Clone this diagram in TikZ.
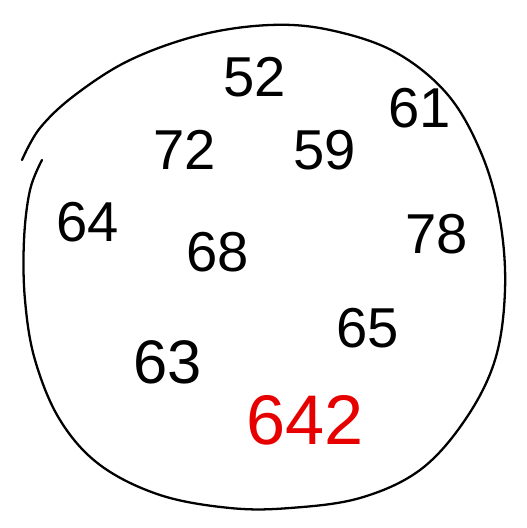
\documentclass[tikz,border=0pt]{standalone}
\usepackage{fontspec}
\setmainfont{Liberation Sans}
\definecolor{markred}{RGB}{230, 0, 0}
\usepackage{tikz}
\usetikzlibrary{positioning, calc}

\tikzset{
  num/.style={font=\fontsize{32}{32}\selectfont, inner sep=0pt},
  bignum/.style={font=\fontsize{40}{40}\selectfont, inner sep=0pt, text=markred},
  blob/.style={draw=black, line width=1.3pt, line cap=round}
}

\begin{document}
\begin{tikzpicture}[x=0.02cm, y=-0.02cm]
  \useasboundingbox (0,0) rectangle (527,528);
  % outline of the set
  \draw[blob] plot[smooth, tension=0.6] coordinates {
    (42,160) (30,190) (24,240) (25,300) (35,360) (60,420) (100,465)
    (160,495) (230,508) (290,508) (360,498) (420,470) (465,420)
    (495,360) (505,290) (500,220) (482,155) (448,95) (395,52)
    (330,30) (270,25) (200,35) (130,60) (75,95) (40,128) (22,160)};
  % the numbers
  \node[num] (n52) at (255,77) {52};
  \node[num] (n61) at (420,108) {61};
  \node[num] (n72) at (185,150) {72};
  \node[num] (n59) at (325,150) {59};
  \node[num] (n64) at (88,222) {64};
  \node[num] (n78) at (437,234) {78};
  \node[num] (n68) at (218,252) {68};
  \node[num] (n65) at (368,328) {65};
  \node[num, font=\fontsize{35}{35}\selectfont] (n63) at (168,362) {63};
  \node[bignum] (n642) at (305,420) {642};
\end{tikzpicture}
\end{document}
